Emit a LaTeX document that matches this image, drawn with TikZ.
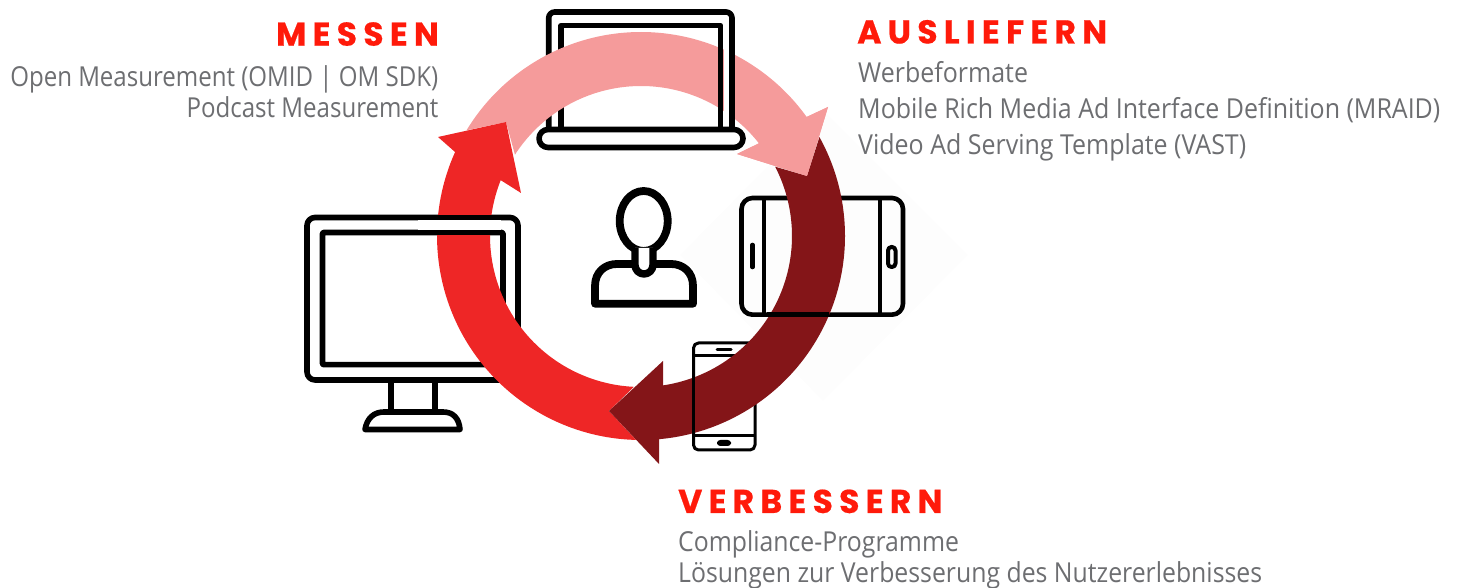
\documentclass[tikz,border=0pt]{standalone}
\usepackage{fontspec}
\usetikzlibrary{calc}
\setmainfont{Open Sans}
\newfontfamily\headfont[LetterSpace=19,BoldFeatures={FakeBold=0.5}]{Poppins}
\definecolor{headred}{HTML}{FF1A0A}
\definecolor{textgrey}{HTML}{6D6E71}
\definecolor{ringpink}{HTML}{F59B9B}
\definecolor{ringred}{HTML}{EE2626}
\definecolor{ringdark}{HTML}{841518}
\tikzset{
  headline/.style={text=headred, font=\headfont\bfseries\fontsize{33}{33}\selectfont, inner sep=0pt},
  bodytext/.style={text=textgrey, font=\addfontfeature{FakeStretch=#1}\fontsize{27.5}{31.5}\selectfont, inner sep=0pt, align=left},
  icon/.style={draw=black, line width=5.6pt, line join=round},
  fineicon/.style={draw=black, line width=3pt, line join=round}
}
\begin{document}
\begin{tikzpicture}[x=1pt,y=1pt]
  \useasboundingbox (0,0) rectangle (1458,588);
  \coordinate (c) at (641,352);

  % faint square behind the tablet
  \fill[black!0.8] (823,478) -- (968,333) -- (823,187) -- (680,333) -- cycle;

  % laptop
  \draw[icon, rounded corners=6pt] (548.7,458) -- (548.7,576) -- (732,576) -- (732,458);
  \draw[icon] (561,458) -- (561,562.4) -- (720.5,562.4) -- (720.5,458);
  \draw[icon, rounded corners=9pt] (539,458.5) -- (743,458.5) -- (743,440.5) -- (539,440.5) -- cycle;

  % monitor
  \draw[icon, rounded corners=8pt] (307,208) rectangle (518,370.5);
  \draw[icon, rounded corners=1pt] (322.5,223.3) rectangle (503,355.5);
  \draw[icon] (391,208) -- (391,176) (435,208) -- (435,176);
  \draw[icon] (365,158.5) .. controls (367,170) and (374,176) .. (384,176) -- (443,176)
    .. controls (453,176) and (459,170) .. (460,158.5) -- cycle;

  % person
  \draw[icon, line width=7.8pt] (643.7,367) ellipse (24pt and 30pt);
  \draw[icon, line width=7.8pt] (595,284.3) -- (595,302) .. controls (595,316) and (605,324) .. (617,324) -- (671,324)
    .. controls (683,324) and (693,316) .. (693,302) -- (693,284.3) -- cycle;
  \draw[icon, line width=7.4pt, fill=white] (635,340) -- (635,323) arc[start angle=180, end angle=360, radius=9pt] -- (653,340);

  % tablet
  \draw[icon, line width=4.6pt, rounded corners=11pt] (741.5,273.3) rectangle (903,390);
  \draw[icon, line width=4.6pt] (764,273.3) -- (764,390) (880,273.3) -- (880,390);
  \draw[icon, line width=4.6pt, line cap=round] (752.5,321) -- (752.5,343);
  \draw[icon, line width=4pt, rounded corners=3.5pt] (888,321) rectangle (895.5,341);

  % phone
  \draw[fineicon, rounded corners=5pt] (693.5,138) rectangle (755,245);
  \draw[fineicon] (693.5,232.3) -- (755,232.3) (693.5,152.3) -- (755,152.3);
  \draw[fineicon, line cap=round] (717,238) -- (731,238);
  \draw[fineicon, rounded corners=2pt] (718.5,143.5) rectangle (729.5,146.5);

  % ring: pink, red, dark, then the pink head once more
  \fill[ringpink] ($(c)+(148.8:204)$) arc[start angle=148.8, end angle=35.7, radius=204pt]
    -- (828,481) -- (807,412) -- (737,434) -- ($(c)+(38.2:150)$)
    arc[start angle=38.2, end angle=147.2, radius=150pt] -- (506,466) -- cycle;
  \fill[ringred] ($(c)+(-91.4:204)$) arc[start angle=-91.4, end angle=-204.3, radius=204pt]
    -- (438,451) -- (506,466) -- (521,395) -- ($(c)+(158.3:151)$)
    arc[start angle=158.3, end angle=267.3, radius=151pt] -- (609,177) -- cycle;
  \fill[ringdark] ($(c)+(29:204)$) arc[start angle=29, end angle=-84.9, radius=204pt]
    -- (659,124) -- (609,177) -- (663,227) -- ($(c)+(-81.6:151)$)
    arc[start angle=-81.6, end angle=27.3, radius=151pt] -- (807,412) -- cycle;
  \fill[ringpink] (806.7,471) -- (828,481) -- (807,412) -- (737,434) -- (758,444) -- cycle;

  % pieces of the icons lying on top of the ring
  \fill[white] (724,465) rectangle (729.2,541);
  \draw[black, line width=5.6pt] (720.5,465) -- (720.5,541) (732,465) -- (732,541);
  \fill[white] (418,358) rectangle (501,368);
  \draw[icon] (418,370.5) -- (501,370.5) (418,355.5) -- (501,355.5);
  \draw[fineicon] (693.5,152) -- (693.5,212) (693.5,152.3) -- (755,152.3);
  \draw[icon, line width=4.6pt] (767,273.3) -- (829,273.3);

  % texts
  \node[headline, anchor=base east] (messen) at (439,542.3) {MESSEN};
  \node[bodytext=0.875, anchor=base east, align=right] (messentext) at (438.5,470.3) {Open Measurement (OMID | OM SDK)\\Podcast Measurement};
  \node[headline, anchor=base west] (ausliefern) at (857,544.5) {AUSLIEFERN};
  \node[bodytext=0.908, anchor=base west] (auslieferntext) at (858,433.5) {Werbeformate\\[4.5pt]Mobile Rich Media Ad Interface Definition (MRAID)\\[4.5pt]Video Ad Serving Template (VAST)};
  \node[headline, anchor=base west] (verbessern) at (678,75) {VERBESSERN};
  \node[bodytext=0.902, anchor=base west] (verbesserntext) at (678,5) {Compliance-Programme\\Lösungen zur Verbesserung des Nutzererlebnisses};
\end{tikzpicture}
\end{document}
